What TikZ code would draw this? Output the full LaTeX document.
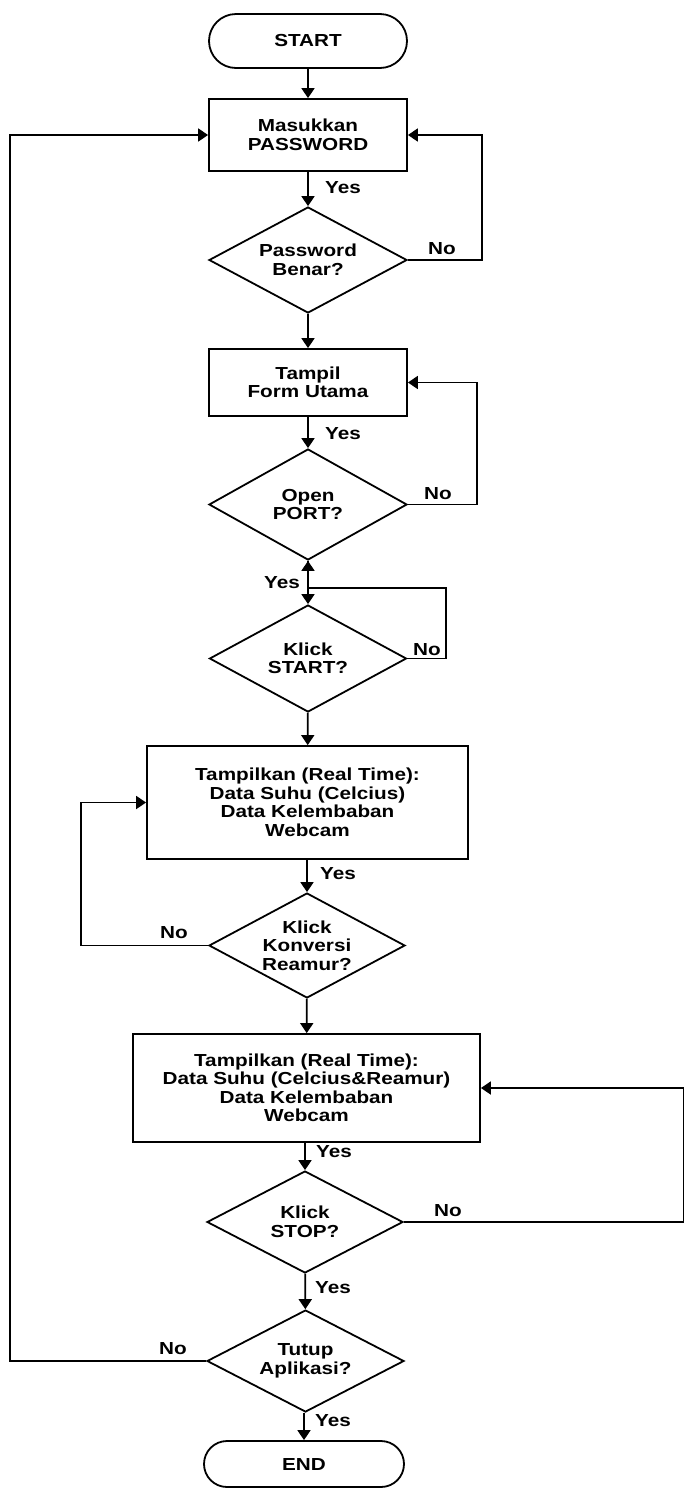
\documentclass[tikz,border=0pt]{standalone}
\usepackage{fontspec}
\usepackage{graphicx}
\newfontfamily\flowfont{Liberation Sans}
\newcommand{\sx}[1]{\scalebox{1.19}[1]{#1}}
\usetikzlibrary{shapes.geometric,shapes.misc,arrows.meta}
\begin{document}
\begin{tikzpicture}[x=1pt,y=-1pt,
  every node/.style={font=\flowfont\bfseries\fontsize{17.4}{18.5}\selectfont, align=center, inner sep=0pt},
  term/.style={draw, line width=1.8pt, rounded rectangle},
  proc/.style={draw, line width=1.8pt, rectangle},
  dec/.style={draw, line width=1.8pt, diamond, shape aspect=1.9},
  lbl/.style={},
  arr/.style={line width=1.8pt, -{Triangle[length=10pt,width=13pt]}},
  ln/.style={line width=1.8pt}]
\fill[white] (0,0) rectangle (684,1489);
\useasboundingbox (0,0) rectangle (684,1489);

\node[term, minimum width=198pt, minimum height=54pt] (start) at (308,41) {\sx{START}};
\node[proc, minimum width=198pt, minimum height=72pt] (pass) at (308,135) {\sx{Masukkan}\\\sx{PASSWORD}};
\node[dec, minimum width=198pt, minimum height=106pt] (d1) at (308,260) {\sx{Password}\\\sx{Benar?}};
\node[proc, minimum width=198pt, minimum height=67pt] (form) at (308,382.5) {\sx{Tampil}\\\sx{Form Utama}};
\node[dec, minimum width=198pt, minimum height=111pt] (d2) at (308,504.5) {\sx{Open}\\\sx{PORT?}};
\node[dec, minimum width=197pt, minimum height=107pt] (d3) at (308,658.5) {\sx{Klick}\\\sx{START?}};
\node[proc, minimum width=321pt, minimum height=113pt] (show1) at (307.5,802.5) {\sx{Tampilkan (Real Time):}\\\sx{Data Suhu (Celcius)}\\\sx{Data Kelembaban}\\\sx{Webcam}};
\node[dec, minimum width=196pt, minimum height=105pt] (d4) at (307,945.5) {\sx{Klick}\\\sx{Konversi}\\\sx{Reamur?}};
\node[proc, minimum width=347pt, minimum height=108pt] (show2) at (306.5,1088) {\sx{Tampilkan (Real Time):}\\\sx{Data Suhu (Celcius\&Reamur)}\\\sx{Data Kelembaban}\\\sx{Webcam}};
\node[dec, minimum width=196pt, minimum height=102pt] (d5) at (305,1222) {\sx{Klick}\\\sx{STOP?}};
\node[dec, minimum width=197pt, minimum height=102pt] (d6) at (305.5,1361) {\sx{Tutup}\\\sx{Aplikasi?}};
\node[term, minimum width=200pt, minimum height=46pt] (end) at (304,1464) {\sx{END}};

% labels
\node[lbl] (y1) at (343,188) {\sx{Yes}};
\node[lbl] (n1) at (442,249) {\sx{No}};
\node[lbl] (y2) at (343,434) {\sx{Yes}};
\node[lbl] (n2) at (438,494) {\sx{No}};
\node[lbl] (y3) at (282,583) {\sx{Yes}};
\node[lbl] (n3) at (427,650) {\sx{No}};
\node[lbl] (y4) at (338,874) {\sx{Yes}};
\node[lbl] (n4) at (174,933) {\sx{No}};
\node[lbl] (y5) at (334,1152) {\sx{Yes}};
\node[lbl] (n5) at (448,1211) {\sx{No}};
\node[lbl] (y6) at (333,1288) {\sx{Yes}};
\node[lbl] (n6) at (173,1349) {\sx{No}};
\node[lbl] (y7) at (333,1421) {\sx{Yes}};

% helper coordinates
\coordinate (c1) at (482,260);
\coordinate (c2) at (477,504.5);
\coordinate (c3) at (446,658.5);
\coordinate (j3) at (308,588);
\coordinate (c4) at (81,945.5);
\coordinate (c5) at (684,1222);
\coordinate (c6) at (10,1361);

% main flow
\draw[arr] (start) -- (pass);
\draw[arr] (pass) -- (d1);
\draw[arr] (d1) -- (form);
\draw[arr] (form) -- (d2);
\draw[arr] (d2) -- (d3);
\draw[arr] (d3) -- (show1);
\draw[arr] (show1.south -| d4.north) -- (d4.north);
\draw[arr] (d4) -- (show2);
\draw[arr] (show2.south -| d5.north) -- (d5.north);
\draw[arr] (d5) -- (d6);
\draw[arr] (d6.south -| end.north) -- (end.north);

% loops
\draw[arr] (d1.east) -- (c1) |- (pass.east);
\draw[arr] (d2.east) -- (c2) |- (form.east);
\draw[arr] (d3.east) -- (c3) |- (j3) -- (d2.south);
\draw[arr] (d4.west) -- (c4) |- (show1.west);
\draw[arr] (d5.east) -- (c5) |- (show2.east);
\draw[arr] (d6.west) -- (c6) |- (pass.west);
\end{tikzpicture}
\end{document}
